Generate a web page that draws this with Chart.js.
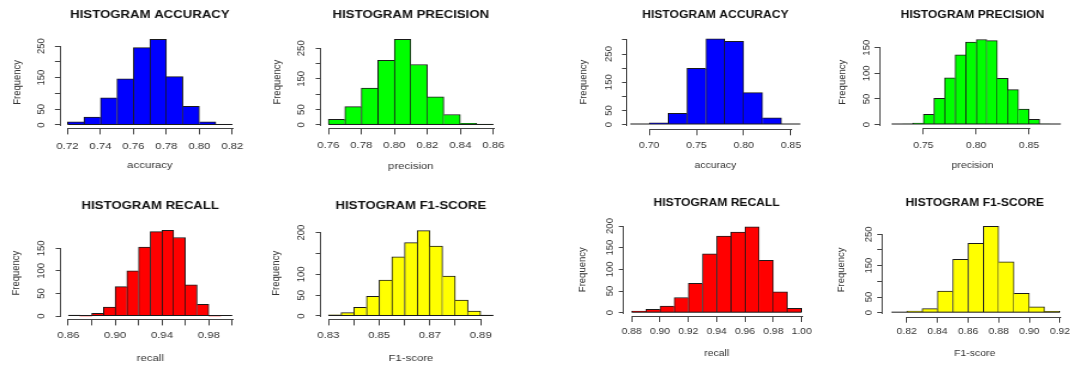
<!DOCTYPE html>
<html>
<head>
    <title>Histograms</title>
    <style>
        body {
            margin: 0;
            background-color: #fff;
        }

        #page {
            position: relative;
            width: 1070px;
            height: 365px;
            overflow: hidden;
            background-color: #fff;
        }

        .panel {
            position: absolute;
            transform-origin: 0 0;
        }
    </style>
    <script src="https://cdn.jsdelivr.net/npm/chart.js"></script>
</head>
<body>
    <div id="page"></div>
    <script>
        // ---- left block, top row ----
        var accuracyBinsA = [0.72, 0.73, 0.74, 0.75, 0.76, 0.77, 0.78, 0.79, 0.80, 0.81];
        var accuracyCountsA = [10, 25, 86, 146, 245, 271, 153, 59, 10, 2];
        var accuracyXTicksA = [0.72, 0.74, 0.76, 0.78, 0.80, 0.82];
        var accuracyXLabelsA = ['0.72', '0.74', '0.76', '0.78', '0.80', '0.82'];
        var accuracyYTicksA = [0, 50, 100, 150, 200, 250];
        var accuracyYLabelsA = ['0', '50', '', '150', '', '250'];

        var precisionBinsA = [0.76, 0.77, 0.78, 0.79, 0.80, 0.81, 0.82, 0.83, 0.84, 0.85];
        var precisionCountsA = [18, 60, 120, 211, 279, 197, 92, 34, 5, 2];
        var precisionXTicksA = [0.76, 0.78, 0.80, 0.82, 0.84, 0.86];
        var precisionXLabelsA = ['0.76', '0.78', '0.80', '0.82', '0.84', '0.86'];
        var precisionYTicksA = [0, 50, 100, 150, 200, 250];
        var precisionYLabelsA = ['0', '50', '', '150', '', '250'];

        // ---- left block, bottom row ----
        var recallBinsA = [0.86, 0.87, 0.88, 0.89, 0.90, 0.91, 0.92, 0.93, 0.94, 0.95, 0.96, 0.97, 0.98, 0.99];
        var recallCountsA = [2, 0, 6, 20, 65, 100, 153, 187, 190, 174, 69, 26, 0, 0];
        var recallXTicksA = [0.86, 0.88, 0.90, 0.92, 0.94, 0.96, 0.98, 1.00];
        var recallXLabelsA = ['0.86', '', '0.90', '', '0.94', '', '0.98', ''];
        var recallYTicksA = [0, 50, 100, 150];
        var recallYLabelsA = ['0', '50', '100', '150'];

        var f1BinsA = [0.830, 0.835, 0.840, 0.845, 0.850, 0.855, 0.860, 0.865, 0.870, 0.875, 0.880, 0.885, 0.890];
        var f1CountsA = [3, 8, 21, 47, 86, 142, 176, 205, 168, 96, 38, 12, 2];
        var f1XTicksA = [0.83, 0.84, 0.85, 0.86, 0.87, 0.88, 0.89];
        var f1XLabelsA = ['0.83', '', '0.85', '', '0.87', '', '0.89'];
        var f1YTicksA = [0, 50, 100, 150, 200];
        var f1YLabelsA = ['0', '50', '100', '', '200'];

        // ---- right block, top row ----
        var accuracyBinsB = [0.68, 0.70, 0.72, 0.74, 0.76, 0.78, 0.80, 0.82, 0.84];
        var accuracyCountsB = [0, 6, 40, 199, 304, 295, 113, 24, 0];
        var accuracyXTicksB = [0.70, 0.75, 0.80, 0.85];
        var accuracyXLabelsB = ['0.70', '0.75', '0.80', '0.85'];
        var accuracyYTicksB = [0, 50, 100, 150, 200, 250, 300];
        var accuracyYLabelsB = ['0', '50', '', '150', '', '250', ''];

        var precisionBinsB = [0.72, 0.73, 0.74, 0.75, 0.76, 0.77, 0.78, 0.79, 0.80, 0.81, 0.82, 0.83, 0.84, 0.85, 0.86, 0.87];
        var precisionCountsB = [0, 1, 3, 20, 51, 91, 136, 161, 166, 164, 90, 68, 30, 10, 1, 0];
        var precisionXTicksB = [0.75, 0.80, 0.85];
        var precisionXLabelsB = ['0.75', '0.80', '0.85'];
        var precisionYTicksB = [0, 50, 100, 150];
        var precisionYLabelsB = ['0', '50', '100', '150'];

        // ---- right block, bottom row ----
        var recallBinsB = [0.88, 0.89, 0.90, 0.91, 0.92, 0.93, 0.94, 0.95, 0.96, 0.97, 0.98, 0.99];
        var recallCountsB = [4, 8, 15, 35, 68, 136, 177, 186, 198, 121, 48, 10];
        var recallXTicksB = [0.88, 0.90, 0.92, 0.94, 0.96, 0.98, 1.00];
        var recallXLabelsB = ['0.88', '0.90', '0.92', '0.94', '0.96', '0.98', '1.00'];
        var recallYTicksB = [0, 50, 100, 150, 200];
        var recallYLabelsB = ['0', '50', '100', '150', '200'];

        var f1BinsB = [0.81, 0.82, 0.83, 0.84, 0.85, 0.86, 0.87, 0.88, 0.89, 0.90, 0.91];
        var f1CountsB = [1, 5, 13, 69, 170, 221, 275, 162, 62, 19, 4];
        var f1XTicksB = [0.82, 0.84, 0.86, 0.88, 0.90, 0.92];
        var f1XLabelsB = ['0.82', '0.84', '0.86', '0.88', '0.90', '0.92'];
        var f1YTicksB = [0, 50, 100, 150, 200, 250];
        var f1YLabelsB = ['0', '50', '', '150', '', '250'];

        var FONT = "'Liberation Sans', Arial, sans-serif";
        var TEXT = '#333';
        var AXIS = '#444';
        var EDGE = '#1a1a1a';

        var charts = [
            { title: 'HISTOGRAM ACCURACY', xTitle: 'accuracy', color: '#0000ff', bins: accuracyBinsA, counts: accuracyCountsA, xTicks: accuracyXTicksA, xLabels: accuracyXLabelsA, yTicks: accuracyYTicksA, yLabels: accuracyYLabelsA },
            { title: 'HISTOGRAM PRECISION', xTitle: 'precision', color: '#00ff00', bins: precisionBinsA, counts: precisionCountsA, xTicks: precisionXTicksA, xLabels: precisionXLabelsA, yTicks: precisionYTicksA, yLabels: precisionYLabelsA },
            { title: 'HISTOGRAM ACCURACY', xTitle: 'accuracy', color: '#0000ff', bins: accuracyBinsB, counts: accuracyCountsB, xTicks: accuracyXTicksB, xLabels: accuracyXLabelsB, yTicks: accuracyYTicksB, yLabels: accuracyYLabelsB },
            { title: 'HISTOGRAM PRECISION', xTitle: 'precision', color: '#00ff00', bins: precisionBinsB, counts: precisionCountsB, xTicks: precisionXTicksB, xLabels: precisionXLabelsB, yTicks: precisionYTicksB, yLabels: precisionYLabelsB },
            { title: 'HISTOGRAM RECALL', xTitle: 'recall', color: '#ff0000', bins: recallBinsA, counts: recallCountsA, xTicks: recallXTicksA, xLabels: recallXLabelsA, yTicks: recallYTicksA, yLabels: recallYLabelsA },
            { title: 'HISTOGRAM F1-SCORE', xTitle: 'F1-score', color: '#ffff00', bins: f1BinsA, counts: f1CountsA, xTicks: f1XTicksA, xLabels: f1XLabelsA, yTicks: f1YTicksA, yLabels: f1YLabelsA },
            { title: 'HISTOGRAM RECALL', xTitle: 'recall', color: '#ff0000', bins: recallBinsB, counts: recallCountsB, xTicks: recallXTicksB, xLabels: recallXLabelsB, yTicks: recallYTicksB, yLabels: recallYLabelsB },
            { title: 'HISTOGRAM F1-SCORE', xTitle: 'F1-score', color: '#ffff00', bins: f1BinsB, counts: f1CountsB, xTicks: f1XTicksB, xLabels: f1XLabelsB, yTicks: f1YTicksB, yLabels: f1YLabelsB }
        ];

        // page placement of each panel (page pixels); plot = [left, right, top, bottom] of the plot region
        var layout = [
            { x0: 0, y0: 0, w: 260, h: 182, sx: 1.2, plot: [60.9, 238.9, 36.3, 128.4], xRange: [0.716, 0.824], yRange: [-10.8, 280.8], titleY: 15, xLabY: 146, xTitleY: 165.7, yLabX: 41.7, yTitleX: 16.7 },
            { x0: 260, y0: 0, w: 260, h: 182, sx: 1.2, plot: [321.7, 499.9, 35.9, 128.4], xRange: [0.756, 0.864], yRange: [-11.2, 290.2], titleY: 15, xLabY: 145.7, xTitleY: 166.7, yLabX: 301.7, yTitleX: 276.7 },
            { x0: 560, y0: 0, w: 264, h: 182, sx: 1.1, plot: [627.5, 803.2, 35, 129.3], xRange: [0.677, 0.863], yRange: [-17, 317.4], titleY: 15, xLabY: 145.7, xTitleY: 165, yLabX: 608.3, yTitleX: 584 },
            { x0: 810, y0: 0, w: 260, h: 182, sx: 1.1, plot: [880, 1065, 36.1, 128.3], xRange: [0.709, 0.884], yRange: [-7.4, 172.7], titleY: 15, xLabY: 145.7, xTitleY: 165, yLabX: 867, yTitleX: 842.3 },
            { x0: 0, y0: 182, w: 260, h: 183, sx: 1.2, plot: [61.7, 238.8, 226.8, 319.4], xRange: [0.8544, 1.0056], yRange: [-7.5, 197.7], titleY: 206, xLabY: 335, xTitleY: 358.3, yLabX: 41.7, yTitleX: 15.7 },
            { x0: 260, y0: 182, w: 260, h: 183, sx: 1.2, plot: [321.7, 500, 227.2, 319.4], xRange: [0.8274, 0.8976], yRange: [-8.2, 213.2], titleY: 206, xLabY: 335.7, xTitleY: 358.3, yLabX: 301.7, yTitleX: 275.7 },
            { x0: 560, y0: 182, w: 264, h: 183, sx: 1.1, plot: [624.3, 809, 223.4, 316], xRange: [0.8748, 1.0052], yRange: [-7.6, 206], titleY: 202.7, xLabY: 331.7, xTitleY: 353.3, yLabX: 610, yTitleX: 582.7 },
            { x0: 810, y0: 182, w: 260, h: 183, sx: 1.1, plot: [882.7, 1066.7, 223, 316.7], xRange: [0.8043, 0.9244], yRange: [-12.8, 286], titleY: 202.7, xLabY: 331.7, xTitleY: 353.3, yLabX: 868.3, yTitleX: 841.7 }
        ];

        // R style axes: lines only between the first and last tick, plus the bars' baseline
        var rAxes = {
            id: 'rAxes',
            afterDatasetsDraw: function(chart, args, opts) {
                var ctx = chart.ctx;
                var xs = chart.scales.x;
                var ys = chart.scales.y;
                var area = chart.chartArea;
                var xt = xs.ticks;
                var yt = ys.ticks;
                ctx.save();
                ctx.lineWidth = 1;

                ctx.strokeStyle = EDGE;
                var base = ys.getPixelForValue(0) - 0.5;
                ctx.beginPath();
                ctx.moveTo(xs.getPixelForValue(opts.from), base);
                ctx.lineTo(xs.getPixelForValue(opts.to), base);
                ctx.stroke();

                ctx.strokeStyle = AXIS;
                var yb = Math.round(area.bottom) + 0.5;
                ctx.beginPath();
                ctx.moveTo(Math.round(xs.getPixelForValue(xt[0].value)), yb);
                ctx.lineTo(Math.round(xs.getPixelForValue(xt[xt.length - 1].value)) + 1, yb);
                ctx.stroke();

                var xl = Math.round(area.left) - 0.5;
                ctx.beginPath();
                ctx.moveTo(xl, Math.round(ys.getPixelForValue(yt[0].value)) + 1);
                ctx.lineTo(xl, Math.round(ys.getPixelForValue(yt[yt.length - 1].value)));
                ctx.stroke();
                ctx.restore();
            }
        };

        var measure = document.createElement('canvas').getContext('2d');
        measure.font = '9.5px ' + FONT;

        function makeChart(d, p) {
            var nativeW = Math.round(p.w / p.sx);
            var sx = p.w / nativeW;

            var wrap = document.createElement('div');
            wrap.className = 'panel';
            wrap.style.left = p.x0 + 'px';
            wrap.style.top = p.y0 + 'px';
            wrap.style.width = nativeW + 'px';
            wrap.style.height = p.h + 'px';
            wrap.style.transform = 'scaleX(' + sx + ')';
            var canvas = document.createElement('canvas');
            canvas.width = nativeW;
            canvas.height = p.h;
            wrap.appendChild(canvas);
            document.getElementById('page').appendChild(wrap);

            var step = d.bins[1] - d.bins[0];
            var n = d.counts.length;
            var points = d.bins.map(function(b, i) {
                return { x: b + step / 2, y: d.counts[i] };
            });

            var widest = 0;
            d.yLabels.forEach(function(l) {
                widest = Math.max(widest, measure.measureText(l).width);
            });

            var titleLh = 11 * 1.2;
            var textLh = 9.5 * 1.2;
            var titlePadTop = p.titleY - p.y0 - titleLh / 2;
            var titlePadBottom = p.plot[2] - p.y0 - titlePadTop - titleLh;
            var xAxisH = p.y0 + p.h - p.plot[3];
            var yAxisW = (p.plot[0] - p.x0) / sx;
            var font = { family: FONT, size: 9.5, lineHeight: 1.2 };

            new Chart(canvas, {
                type: 'bar',
                data: {
                    datasets: [{
                        data: points,
                        backgroundColor: d.color,
                        borderColor: EDGE,
                        borderSkipped: 'start',
                        barPercentage: 1,
                        categoryPercentage: 1,
                        borderWidth: function(ctx) {
                            var i = ctx.dataIndex;
                            var c = d.counts;
                            return {
                                top: 1,
                                bottom: 0,
                                left: (i === 0 || c[i] >= c[i - 1]) ? 1 : 0,
                                right: (i === n - 1 || c[i] > c[i + 1]) ? 1 : 0
                            };
                        }
                    }]
                },
                options: {
                    responsive: false,
                    animation: false,
                    layout: {
                        padding: { left: 0, top: 0, bottom: 0, right: (p.x0 + p.w - p.plot[1]) / sx }
                    },
                    plugins: {
                        legend: { display: false },
                        tooltip: { enabled: false },
                        title: {
                            display: true,
                            text: d.title,
                            fullSize: false,
                            color: '#111',
                            font: { family: FONT, size: 11, weight: 'bold', lineHeight: 1.2 },
                            padding: { top: titlePadTop, bottom: titlePadBottom }
                        },
                        rAxes: { from: d.bins[0], to: d.bins[n - 1] + step }
                    },
                    scales: {
                        x: {
                            type: 'linear',
                            min: p.xRange[0],
                            max: p.xRange[1],
                            offset: false,
                            afterBuildTicks: function(s) {
                                s.ticks = d.xTicks.map(function(v) { return { value: v }; });
                            },
                            afterFit: function(s) {
                                s.height = xAxisH;
                                s.paddingLeft = 0;
                                s.paddingRight = 0;
                            },
                            grid: { offset: false, drawOnChartArea: false, tickLength: 6, color: AXIS },
                            border: { display: false },
                            ticks: {
                                autoSkip: false,
                                maxRotation: 0,
                                minRotation: 0,
                                padding: p.xLabY - p.plot[3] - 6 - textLh / 2,
                                color: TEXT,
                                font: font,
                                callback: function(v, i) { return d.xLabels[i]; }
                            },
                            title: {
                                display: true,
                                text: d.xTitle,
                                color: TEXT,
                                font: font,
                                padding: { top: 0, bottom: p.y0 + p.h - p.xTitleY - textLh / 2 }
                            }
                        },
                        y: {
                            type: 'linear',
                            min: p.yRange[0],
                            max: p.yRange[1],
                            afterBuildTicks: function(s) {
                                s.ticks = d.yTicks.map(function(v) { return { value: v }; });
                            },
                            afterFit: function(s) {
                                s.width = yAxisW;
                                s.paddingTop = 0;
                                s.paddingBottom = 0;
                            },
                            grid: { drawOnChartArea: false, tickLength: 5, color: AXIS },
                            border: { display: false },
                            ticks: {
                                autoSkip: false,
                                minRotation: 90,
                                maxRotation: 90,
                                crossAlign: 'center',
                                padding: (p.plot[0] - p.yLabX) / sx - 5 - widest / 2,
                                color: TEXT,
                                font: font,
                                callback: function(v, i) { return d.yLabels[i]; }
                            },
                            title: {
                                display: true,
                                text: 'Frequency',
                                color: TEXT,
                                font: font,
                                padding: { top: (p.yTitleX - p.x0) / sx - textLh / 2, bottom: 0 }
                            }
                        }
                    }
                },
                plugins: [rAxes]
            });
        }

        charts.forEach(function(d, i) {
            makeChart(d, layout[i]);
        });
    </script>
</body>
</html>
